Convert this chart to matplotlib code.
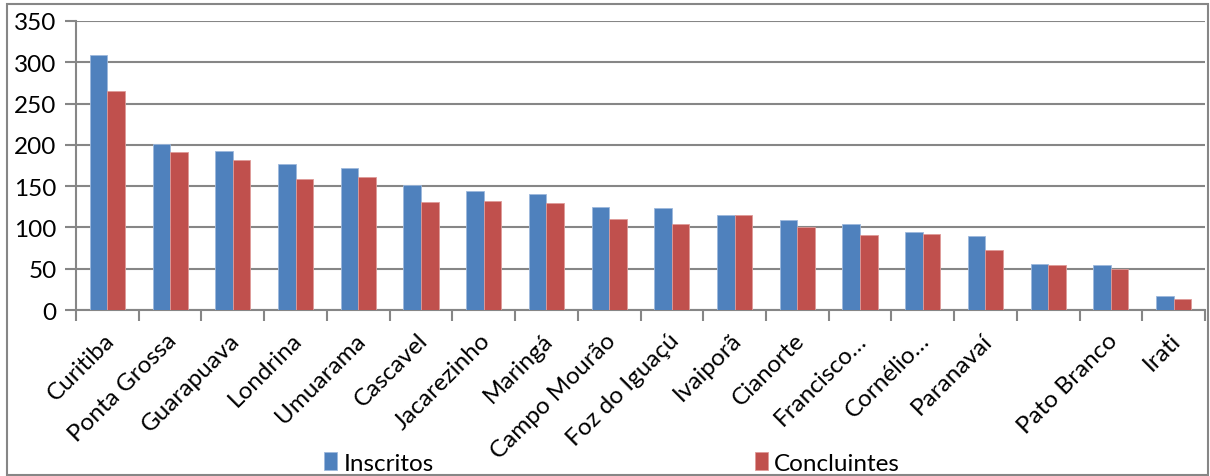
import matplotlib
matplotlib.use("Agg")
import matplotlib.pyplot as plt
from matplotlib.patches import Rectangle
import numpy as np

plt.rcParams['font.family'] = ['Lato', 'DejaVu Sans']

categories = ["Curitiba", "Ponta Grossa", "Guarapuava", "Londrina", "Umuarama",
              "Cascavel", "Jacarezinho", "Maringá", "Campo Mourão", "Foz do Iguaçú",
              "Ivaiporã", "Cianorte", "Francisco…", "Cornélio…", "Paranavaí", "",
              "Pato Branco", "Irati"]
inscritos = [309, 201, 192, 177, 172, 151, 144, 141, 125, 123, 115, 109, 104, 95, 90, 56, 54, 17]
concluintes = [265, 191, 182, 159, 161, 131, 132, 129, 110, 104, 115, 100, 91, 92, 73, 55, 50, 13]
yticks = [0, 50, 100, 150, 200, 250, 300, 350]

blue = "#4F81BD"
red = "#C0504D"
grey = "#868686"

W, H = 1210, 477
fig = plt.figure(figsize=(W / 100, H / 100), dpi=100)
ax = fig.add_axes([76 / W, 1 - 311 / H, (1205 - 76) / W, (311 - 22) / H])

x = np.arange(len(categories))
bw = 0.28
b1 = ax.bar(x - bw / 2, inscritos, bw, color=blue, edgecolor="#9DB8DC", linewidth=0.6,
            label="Inscritos", zorder=3)
b2 = ax.bar(x + bw / 2, concluintes, bw, color=red, edgecolor="#DE9A98", linewidth=0.6,
            label="Concluintes", zorder=3)

ax.set_xlim(-0.5, len(categories) - 0.5)
ax.set_ylim(0, 350)
ax.set_yticks(yticks)
ax.set_yticklabels([str(v) for v in yticks], fontsize=17.5, color="black")
ax.tick_params(axis='y', direction='out', length=8, width=1.5, color=grey, pad=6)
ax.yaxis.grid(True, color=grey, linewidth=1.5, zorder=0)
ax.set_axisbelow(True)

# category labels at group centres, boundary ticks between groups
ax.set_xticks(x)
ax.set_xticklabels([])
ax.tick_params(axis='x', which='major', length=0)
ax.set_xticks(np.arange(-0.5, len(categories)), minor=True)
ax.tick_params(axis='x', which='minor', direction='out', length=8, width=1.5, color=grey)

for xi, lab in zip(x, categories):
    ax.annotate(lab, xy=(xi, 0), xycoords=('data', 'axes fraction'),
                xytext=(-4, -19), textcoords='offset pixels',
                rotation=45, rotation_mode='anchor', ha='right', va='top',
                fontsize=17.5, color="black")

for side in ("top", "right"):
    ax.spines[side].set_visible(False)
for side in ("left", "bottom"):
    ax.spines[side].set_color(grey)
    ax.spines[side].set_linewidth(1.5)

fig.legend(handles=[b1, b2], labels=["Inscritos", "Concluintes"],
           loc='center', bbox_to_anchor=(612 / W, 1 - 464 / H), ncol=2,
           frameon=False, fontsize=17.5, handlelength=0.55, handleheight=0.7,
           handletextpad=0.25, columnspacing=13.2, borderaxespad=0)

fig.patches.append(Rectangle((7 / W, 1 - 476 / H), (1208 - 7) / W, (476 - 5) / H,
                             transform=fig.transFigure, fill=False,
                             edgecolor=grey, linewidth=1.5))

fig.savefig("out.png", dpi=100)
